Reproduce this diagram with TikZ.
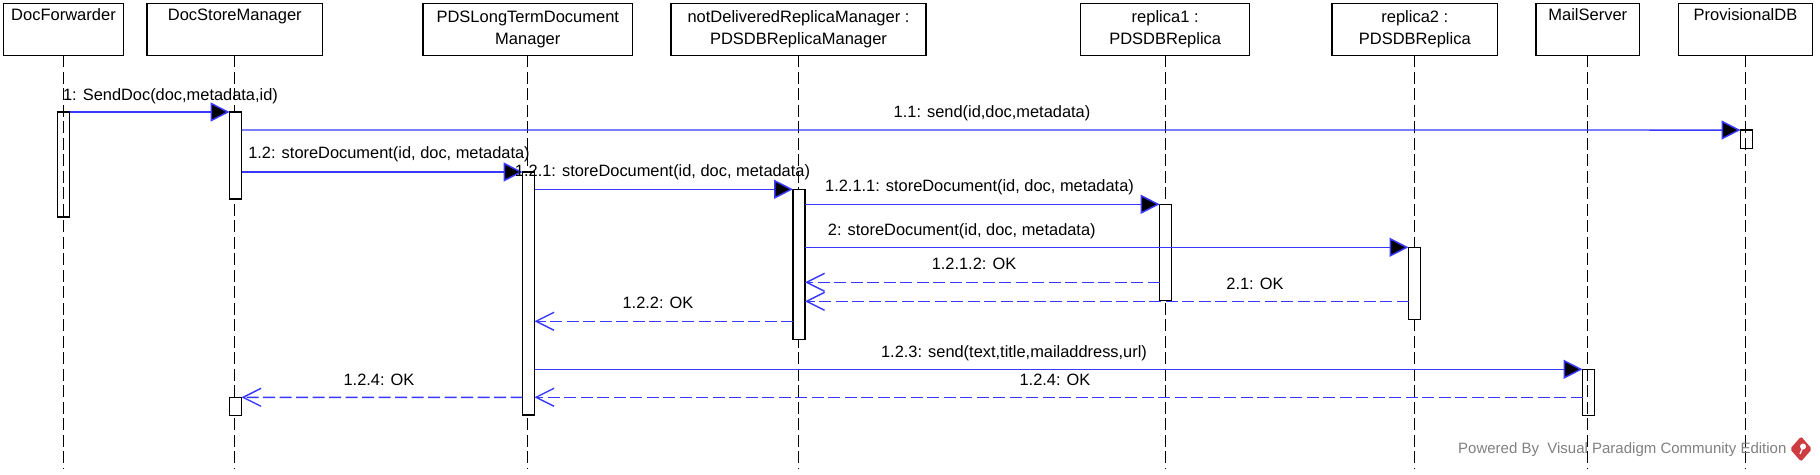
\documentclass[tikz,border=0pt]{standalone}
\usepackage{fontspec}
\setmainfont{Liberation Sans}
\usetikzlibrary{arrows.meta}
\definecolor{msgblue}{RGB}{56,56,255}
\definecolor{logored}{RGB}{205,60,65}
\tikzset{
    headbox/.style={draw,line width=1.5pt,minimum height=52pt,inner sep=0pt,outer sep=0pt,anchor=north,align=center,
        font=\fontsize{16.5}{22.7}\selectfont},
    lifeline/.style={line width=1.3pt,dash pattern=on 12pt off 4.5pt},
    activation/.style={draw,line width=1.5pt,minimum width=12pt,inner sep=0pt,outer sep=0pt},
    callmsg/.style={msgblue,line width=1.4pt,-{Triangle[length=19pt,width=19pt,fill=black,line width=1.5pt]}},
    replymsg/.style={msgblue,line width=1.4pt,dash pattern=on 12pt off 4.5pt,-{Straight Barb[length=18pt,width=18pt,line width=1.4pt]}},
    msglabel/.style={inner sep=0pt,font=\fontsize{16.4}{19}\selectfont},
}
\begin{document}
\begin{tikzpicture}[x=1pt,y=-1pt]
    \useasboundingbox (0,0) rectangle (1820,474);

    \node[headbox,minimum width=120pt] (docfwd) at (63.5,3.3) {DocForwarder\\\strut};
    \node[headbox,minimum width=175.6pt] (docstore) at (234.8,3.3) {DocStoreManager\\\strut};
    \node[headbox,minimum width=209.6pt] (pds) at (527.8,3.3) {PDSLongTermDocument\\Manager};
    \node[headbox,minimum width=255pt] (notdel) at (798.5,3.3) {notDeliveredReplicaManager :\\PDSDBReplicaManager};
    \node[headbox,minimum width=169pt] (replica1) at (1165.2,3.3) {replica1 :\\PDSDBReplica};
    \node[headbox,minimum width=165.6pt] (replica2) at (1414.8,3.3) {replica2 :\\PDSDBReplica};
    \node[headbox,minimum width=103.5pt] (mail) at (1587.8,3.3) {MailServer\\\strut};
    \node[headbox,minimum width=134pt] (provdb) at (1745.5,3.3) {ProvisionalDB\\\strut};

    \coordinate (lifeend) at (0,468);
    \foreach \h in {docstore,pds,notdel,replica1,replica2}{
	\draw[lifeline] (\h.south) -- (\h.south |- lifeend);
    }

    \node[activation,fill=white,minimum height=87pt] (docstoreA) at (235.5,155.5) {};
    \node[activation,fill=white,minimum height=18.3pt] (docstoreB) at (235.5,406.5) {};
    \node[activation,fill=white,minimum height=243pt] (pdsA) at (528.5,293.5) {};
    \node[activation,fill=white,minimum height=150pt] (notdelA) at (799,264.3) {};
    \node[activation,fill=white,minimum height=96pt] (replica1A) at (1165.7,252.3) {};
    \node[activation,fill=white,minimum height=72pt] (replica2A) at (1414.5,283.3) {};
    \node[activation,minimum height=105pt] (docfwdA) at (63.5,164.5) {};
    \node[activation,minimum height=46.4pt] (mailA) at (1588.5,392.5) {};
    \node[activation,minimum height=18.3pt] (provdbA) at (1746.5,139.2) {};
    \foreach \h in {docfwd,mail,provdb}{
	\draw[lifeline] (\h.south) -- (\h.south |- lifeend);
    }

    \coordinate (m11) at (0,130);
    \coordinate (m12) at (0,172);
    \coordinate (m2) at (0,247.3);
    \coordinate (m1212) at (0,282.3);
    \coordinate (m21) at (0,301.3);
    \coordinate (m122) at (0,321.3);
    \coordinate (m123) at (0,369.3);
    \coordinate (m124) at (0,397.3);

    \draw[callmsg] (docfwdA.north east) -- (docstoreA.north west);
    \draw[callmsg] (docstoreA.east |- m11) -- (provdbA.north west);
    \draw[callmsg] (docstoreA.east |- m12) -- (pdsA.north west);
    \draw[callmsg] (pdsA.east |- notdelA.north) -- (notdelA.north west);
    \draw[callmsg] (notdelA.east |- replica1A.north) -- (replica1A.north west);
    \draw[callmsg] (notdelA.east |- m2) -- (replica2A.north west);
    \draw[callmsg] (pdsA.east |- m123) -- (mailA.north west);
    \draw[replymsg] (replica1A.west |- m1212) -- (notdelA.east |- m1212);
    \draw[replymsg] (replica2A.west |- m21) -- (notdelA.east |- m21);
    \draw[replymsg] (notdelA.west |- m122) -- (pdsA.east |- m122);
    \draw[replymsg] (mailA.west |- m124) -- (pdsA.east |- m124);
    \draw[replymsg] (pdsA.west |- m124) -- (docstoreB.north east);

    \node[msglabel] (l1) at (170.5,96.5) {1: SendDoc(doc,metadata,id)};
    \node[msglabel] (l11) at (992,113.6) {1.1: send(id,doc,metadata)};
    \node[msglabel] (l12) at (389,154) {1.2: storeDocument(id, doc, metadata)};
    \node[msglabel] (l121) at (662.5,172) {1.2.1: storeDocument(id, doc, metadata)};
    \node[msglabel] (l1211) at (979.5,187) {1.2.1.1: storeDocument(id, doc, metadata)};
    \node[msglabel] (l2) at (961.8,231.5) {2: storeDocument(id, doc, metadata)};
    \node[msglabel] (l1212) at (974,264) {1.2.1.2: OK};
    \node[msglabel] (l21) at (1255,284) {2.1: OK};
    \node[msglabel] (l122) at (658,303) {1.2.2: OK};
    \node[msglabel] (l123) at (1014,353) {1.2.3: send(text,title,mailaddress,url)};
    \node[msglabel] (l124a) at (1055,380) {1.2.4: OK};
    \node[msglabel] (l124b) at (379,380) {1.2.4: OK};

    \node[inner sep=0pt,font=\fontsize{15}{17}\selectfont,text=black!50,anchor=west] (powered) at (1458,450) {Powered By\ \ Visual Paradigm Community Edition};
    \fill[logored,rounded corners=2pt] (1801,436.5) -- (1812,449) -- (1801,461.5) -- (1790,449) -- cycle;
    \fill[white] (1803,446.5) circle (3);
    \draw[white,line width=1.2pt] (1803,447) -- (1800,454);
\end{tikzpicture}
\end{document}
